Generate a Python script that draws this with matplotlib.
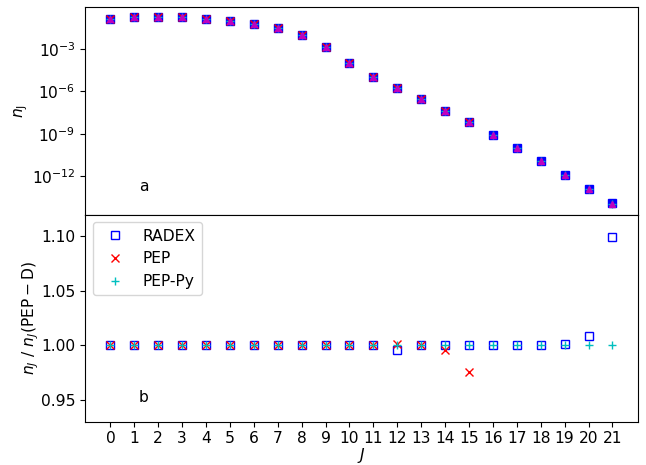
import numpy as np
import matplotlib.pyplot as plt
from matplotlib.ticker import FixedLocator, NullLocator

plt.rcParams['font.size'] = 11.2

# Niveles rotacionales
J = np.arange(22)

# Poblaciones de referencia PEP-D (log10)
log_n_pepd = [-0.93, -0.79, -0.75, -0.79, -0.89, -1.03, -1.26, -1.57, -2.04, -2.86,
              -4.03, -4.97, -5.74, -6.52, -7.36, -8.18, -9.07, -10.0, -10.9, -11.88,
              -12.88, -13.94]
n_pepd = 10.0 ** np.array(log_n_pepd)

# Cocientes respecto a PEP-D
ratio_radex = [1.0, 1.0, 1.0, 1.0, 1.0, 1.0, 1.0, 1.0, 1.0, 1.0, 1.0,
               1.0, 0.996, 1.0, 1.0, 1.0, 1.0, 1.0, 1.0, 1.001, 1.009, 1.099]
ratio_pep = [1.0, 1.0, 1.0, 1.0, 1.0, 1.0, 1.0, 1.0, 1.0, 1.0, 1.0,
             1.0, 1.001, 1.0, 0.9958, 0.9756] + [np.nan] * 6
ratio_pepy = [1.0] * 22

n_radex = n_pepd * np.array(ratio_radex)
n_pep = n_pepd * np.array(ratio_pep)
n_pepy = n_pepd * np.array(ratio_pepy)

fig, (ax1, ax2) = plt.subplots(2, 1, sharex=True, figsize=(6.46, 4.65), dpi=100,
                               gridspec_kw={'hspace': 0})
fig.subplots_adjust(left=0.132, right=0.987, top=0.984, bottom=0.093)

# Panel a: poblaciones
ax1.semilogy(J, n_radex, 'bs', label='RADEX')
ax1.semilogy(J, n_pep, 'rx', label='PEP')
ax1.semilogy(J, n_pepy, 'c+', label='PEP-Py')
ax1.semilogy(J, n_pepd, 'm^', ms=5, label='PEP-D')
ax1.set_ylim(10 ** -14.69, 10 ** -0.09)
ax1.yaxis.set_major_locator(FixedLocator([1e-12, 1e-9, 1e-6, 1e-3]))
ax1.yaxis.set_minor_locator(NullLocator())
ax1.set_ylabel(r'$n_\mathrm{J}$', labelpad=1)
ax1.text(1.2, 10 ** -13.0, 'a')

# Panel b: cocientes
ax2.plot(J, ratio_radex, 'bs', mfc='none', label='RADEX')
ax2.plot(J, ratio_pep, 'rx', label='PEP')
ax2.plot(J, ratio_pepy, 'c+', label='PEP-Py')
ax2.set_ylim(0.93, 1.12)
ax2.set_yticks([0.95, 1.00, 1.05, 1.10])
ax2.set_ylabel(r'$n_J\ /\ n_J(\mathrm{PEP-D})$', labelpad=0)
ax2.set_xlabel(r'$J$', labelpad=0)
ax2.set_xticks(J)
ax2.set_xlim(-1.05, 22.05)
ax2.text(1.2, 0.948, 'b')
ax2.legend(loc='upper left')

plt.savefig('out.png')
